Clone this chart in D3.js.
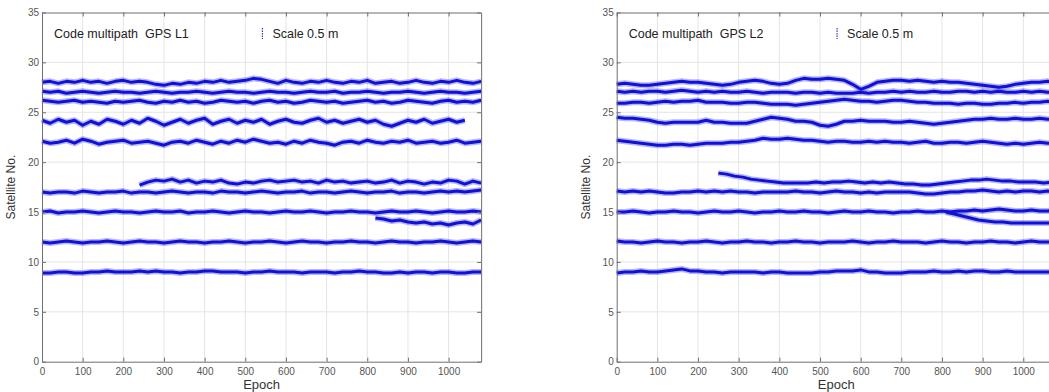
<!DOCTYPE html>
<html>
<head>
<meta charset="utf-8">
<script src="https://cdn.jsdelivr.net/npm/d3@7"></script>
<style>
  body { margin: 0; background: #fff; }
  svg { display: block; font-family: Arial, 'Liberation Sans', sans-serif; }
</style>
</head>
<body>
<div id="chart"></div>
<script>
// ---- data: satellite tracks, one value every 20 epochs ----
const epochStep = 20;
const xTicks = [0, 100, 200, 300, 400, 500, 600, 700, 800, 900, 1000];
const yTicks = [0, 5, 10, 15, 20, 25, 30, 35];

// GPS L1
const l1Sat28 = [28.0,28.1,27.9,28.1,28.0,28.2,28.0,28.1,27.9,28.1,28.2,28.0,28.1,28.0,27.8,27.7,27.9,27.8,28.0,27.9,28.1,28.0,28.2,28.0,28.1,28.2,28.4,28.3,28.1,27.9,28.2,28.0,27.9,28.1,28.0,28.2,28.0,27.9,28.1,28.0,28.2,27.9,28.0,28.1,27.9,28.0,28.2,28.0,27.9,28.1,28.0,28.2,28.0,27.9,28.1];
const l1Sat27 = [27.1,27.0,27.1,26.9,27.0,27.1,27.0,26.9,27.0,27.1,27.0,27.0,26.9,27.0,27.1,27.0,26.9,27.0,27.0,27.1,27.0,26.9,27.0,27.1,27.0,27.0,26.9,27.0,27.1,27.0,27.0,26.9,27.0,27.1,27.0,27.0,27.1,26.9,27.0,27.0,27.1,27.0,26.9,27.0,27.0,27.1,27.0,26.9,27.0,27.1,27.0,27.0,26.9,27.0,27.1];
const l1Sat26 = [26.2,26.1,26.0,26.1,26.2,26.0,26.1,26.0,25.9,26.1,26.0,26.1,26.2,26.0,25.9,26.1,26.0,26.2,26.0,26.1,25.9,26.0,26.2,26.1,26.0,26.1,25.9,26.1,26.2,26.0,26.1,25.9,26.0,26.2,26.1,26.0,26.1,25.9,26.0,26.1,26.2,26.0,26.1,25.9,26.0,26.2,26.1,26.0,25.9,26.1,26.2,26.0,26.1,26.0,26.2];
const l1Sat24 = [24.2,23.9,24.3,24.0,24.2,23.7,24.1,23.8,24.3,24.1,23.8,24.2,23.9,24.4,24.1,23.7,24.0,24.3,23.9,24.2,24.4,23.8,24.1,24.3,23.9,24.2,24.0,24.3,23.8,24.1,24.3,24.0,23.9,24.2,24.4,24.0,24.2,23.9,24.1,24.3,24.0,24.2,23.8,23.6,23.9,24.2,24.0,24.3,23.9,24.1,24.3,24.0,24.2];
const l1Sat22 = [22.1,21.9,22.0,22.2,21.9,22.3,22.1,21.8,22.0,22.1,22.2,21.9,22.0,22.1,21.9,21.7,22.0,22.1,21.9,22.2,22.0,21.8,22.1,21.9,22.2,22.0,22.3,22.1,21.9,22.0,21.8,22.1,21.9,22.2,22.0,21.9,21.7,22.0,22.1,21.9,22.2,22.0,21.9,22.1,22.0,22.2,21.9,22.0,22.1,21.9,22.0,22.2,21.9,22.0,22.1];
const l1Sat18 = [17.7,18.0,18.2,18.1,18.3,18.0,18.2,17.9,18.1,18.0,18.2,17.9,17.8,18.0,17.9,18.1,18.2,18.0,18.1,18.2,18.0,18.1,17.9,18.2,18.0,18.1,17.9,18.0,18.1,17.9,18.0,18.2,17.9,18.1,18.0,17.8,18.0,17.9,18.2,18.1,17.8,18.1,17.9];
const l1Sat17 = [17.0,16.9,17.0,17.0,16.9,17.1,17.0,16.9,17.0,17.0,17.1,16.9,17.0,17.0,16.9,17.0,17.1,17.0,16.9,17.0,17.0,16.9,17.1,17.0,17.0,16.9,17.0,17.1,17.0,16.9,17.0,17.0,17.1,16.9,17.0,17.0,16.9,17.0,17.1,17.0,16.9,17.0,17.0,17.1,16.9,17.0,17.0,16.9,17.0,17.1,17.0,17.1,17.0,17.1,17.2];
const l1Sat15 = [15.0,15.1,14.9,15.0,15.0,15.1,15.0,14.9,15.0,15.1,15.0,15.0,14.9,15.0,15.1,15.0,15.0,15.1,14.9,15.0,15.0,15.1,15.0,14.9,15.0,15.1,15.0,15.0,14.9,15.0,15.1,15.0,15.0,15.1,15.0,14.9,15.0,15.0,15.1,15.0,15.0,14.9,15.0,15.1,15.0,15.0,15.1,15.0,14.9,15.0,15.1,15.0,15.0,15.1,15.0];
const l1Sat14 = [14.4,14.3,14.1,14.2,14.0,13.9,14.0,13.8,13.9,13.7,13.9,14.0,13.8,14.2];
const l1Sat12 = [12.0,11.9,12.0,12.1,12.0,11.9,12.0,12.0,12.1,12.0,11.9,12.0,12.1,12.0,12.0,11.9,12.0,12.1,12.0,12.0,11.9,12.0,12.0,12.1,12.0,11.9,12.0,12.0,12.1,12.0,11.9,12.0,12.1,12.0,12.0,11.9,12.0,12.0,12.1,12.0,12.0,11.9,12.0,12.1,12.0,12.0,11.9,12.0,12.0,12.1,12.0,11.9,12.0,12.1,12.0];
const l1Sat9 = [8.9,8.9,9.0,9.0,8.9,8.9,9.0,9.0,9.1,9.0,9.0,9.0,9.1,9.0,9.1,9.0,9.0,8.9,9.0,9.0,9.1,9.1,9.0,9.0,9.0,8.9,9.0,9.0,9.1,9.0,9.0,9.0,8.9,9.0,9.0,9.0,8.9,9.0,9.0,9.1,9.0,9.0,8.9,8.9,9.0,8.9,9.0,9.0,8.9,9.0,9.0,8.9,8.9,9.0,9.0];

// GPS L2
const l2Sat28 = [27.8,27.9,27.8,27.7,27.7,27.8,27.9,28.0,28.1,28.0,28.0,27.9,27.8,27.7,27.8,28.0,28.1,28.2,28.1,27.9,27.8,27.9,28.2,28.4,28.3,28.3,28.4,28.3,28.2,27.8,27.3,27.6,28.0,28.1,28.2,28.2,28.1,28.2,28.1,28.0,28.1,28.0,28.0,27.9,27.8,27.7,27.6,27.5,27.6,27.8,27.9,28.0,28.0,28.1,28.0];
const l2Sat27 = [27.1,27.0,27.1,27.0,27.1,27.1,27.0,27.1,27.2,27.1,27.0,27.1,27.0,27.1,27.0,27.0,27.1,27.0,26.9,27.0,27.0,27.0,26.9,27.0,27.0,26.9,27.0,26.9,26.9,26.9,27.0,26.9,27.0,27.0,27.1,27.0,27.1,27.0,27.0,27.1,27.0,27.0,27.1,27.1,27.0,27.1,27.0,27.1,27.0,27.0,27.1,27.0,27.1,27.0,27.1];
const l2Sat26 = [25.9,25.9,26.0,26.0,25.9,26.0,26.1,26.0,26.1,26.1,26.2,26.0,26.0,26.0,25.9,25.9,26.0,26.0,25.9,25.8,25.8,25.8,25.7,25.8,25.9,26.0,26.1,26.2,26.3,26.2,26.1,26.1,26.0,26.1,26.2,26.2,26.1,26.0,26.0,25.9,25.9,25.9,25.8,25.9,25.9,25.8,25.8,25.9,25.9,26.0,25.9,26.0,26.0,26.1,26.0];
const l2Sat24 = [24.5,24.4,24.4,24.3,24.2,24.0,23.9,24.0,24.0,24.0,24.0,24.2,24.0,24.0,23.9,23.9,23.9,24.1,24.3,24.5,24.4,24.3,24.1,24.1,24.0,23.7,23.6,23.8,24.1,24.1,24.2,24.1,24.1,24.1,24.0,24.0,24.1,24.0,23.9,23.8,23.9,24.0,24.1,24.2,24.3,24.3,24.4,24.3,24.3,24.4,24.3,24.3,24.4,24.3,24.3];
const l2Sat22 = [22.2,22.1,22.0,21.9,21.8,21.7,21.7,21.8,21.8,21.7,21.8,21.9,21.9,21.9,22.0,22.0,22.1,22.2,22.4,22.3,22.3,22.4,22.3,22.2,22.2,22.1,22.0,22.1,22.1,22.0,22.0,22.1,22.0,22.1,22.0,22.0,21.9,22.0,22.1,21.9,21.9,22.0,22.0,21.9,22.0,22.1,22.0,21.9,21.8,21.9,21.8,21.9,22.0,21.9,21.9];
const l2Sat18 = [18.9,18.8,18.6,18.5,18.3,18.2,18.1,18.0,17.9,17.9,17.9,17.9,18.0,17.9,18.0,18.0,18.1,18.0,17.9,18.0,17.9,18.0,17.9,17.8,17.8,17.7,17.7,17.8,17.9,18.0,18.1,18.2,18.2,18.3,18.2,18.1,18.1,18.0,18.0,18.0,17.9,18.0];
const l2Sat17 = [17.1,17.0,17.1,17.0,17.1,17.0,16.9,16.9,17.0,17.0,17.1,17.0,17.1,17.0,17.1,17.0,17.0,16.9,17.0,17.0,17.0,17.0,17.1,17.0,17.0,16.9,17.0,17.1,17.0,17.0,16.9,17.0,16.9,17.0,17.0,17.0,17.0,16.9,16.8,16.8,16.9,17.0,17.0,17.1,17.1,17.2,17.1,17.0,17.1,17.0,17.1,17.1,17.0,17.1,17.0];
const l2Sat15 = [15.0,15.0,15.1,15.0,14.9,15.0,15.0,15.1,15.0,15.0,14.9,15.0,15.1,15.0,15.0,15.1,15.0,14.9,15.0,15.0,15.1,15.0,15.0,15.1,15.0,15.0,14.9,15.0,15.1,15.0,15.0,15.1,15.0,15.0,14.9,15.0,15.0,15.1,15.0,15.0,15.1,15.0,15.1,15.1,15.2,15.1,15.2,15.3,15.2,15.1,15.1,15.2,15.1,15.1,15.2];
const l2Sat14 = [15.0,14.8,14.6,14.4,14.2,14.1,14.0,14.0,13.9,13.9,13.9,13.9,13.9,13.9];
const l2Sat12 = [12.1,12.0,12.0,11.9,12.0,12.1,12.0,12.0,11.9,12.0,12.0,12.1,12.0,11.9,12.0,12.0,12.1,12.0,12.0,11.9,12.0,12.0,12.1,12.0,12.0,11.9,12.0,12.0,12.0,12.1,12.0,11.9,12.0,12.0,12.1,12.0,12.0,12.0,11.9,12.0,12.1,12.0,12.0,11.9,12.0,12.0,12.1,12.0,12.0,11.9,12.0,12.1,12.0,12.0,12.0];
const l2Sat9 = [8.9,9.0,9.0,9.1,9.0,9.0,9.1,9.2,9.3,9.1,9.1,9.0,9.0,8.9,9.0,9.0,9.0,9.0,8.9,9.0,9.0,8.9,8.9,8.9,8.9,9.0,9.0,9.1,9.1,9.1,9.2,9.0,9.0,8.9,8.9,8.9,9.0,9.0,9.0,9.1,9.0,9.0,9.1,9.0,9.1,9.1,9.0,9.0,9.1,9.0,9.0,9.0,9.0,9.0,9.0];

// series: [values, first epoch]
const l1Tracks = [
  [l1Sat28, 0], [l1Sat27, 0], [l1Sat26, 0], [l1Sat24, 0], [l1Sat22, 0], [l1Sat18, 240],
  [l1Sat17, 0], [l1Sat15, 0], [l1Sat14, 820], [l1Sat12, 0], [l1Sat9, 0],
];
const l2Tracks = [
  [l2Sat28, 0], [l2Sat27, 0], [l2Sat26, 0], [l2Sat24, 0], [l2Sat22, 0], [l2Sat18, 250],
  [l2Sat17, 0], [l2Sat15, 0], [l2Sat14, 810], [l2Sat12, 0], [l2Sat9, 0],
];

// ---- layout ----
const width = 1049;
const height = 392;
const blue = '#1010d8';
const axisColor = '#6e6e6e';
const gridColor = '#e4e4e4';

const svg = d3.select('#chart').append('svg').attr('width', width).attr('height', height);

const drawPanel = (left, tracks, title) => {
  const plotTop = 12.5;
  const plotBottom = 361.7;
  const pxPerEpoch = 0.4066;

  const xScale = d3.scaleLinear().domain([0, 1080]).range([left, left + 1080 * pxPerEpoch]);
  const yScale = d3.scaleLinear().domain([0, 35]).range([plotBottom, plotTop]);
  const [x0, x1] = xScale.range();

  const g = svg.append('g');

  // grid
  g.append('g')
    .selectAll('line')
    .data(xTicks.slice(1))
    .join('line')
    .attr('x1', (d) => xScale(d)).attr('x2', (d) => xScale(d))
    .attr('y1', plotTop).attr('y2', plotBottom)
    .attr('stroke', gridColor);
  g.append('g')
    .selectAll('line')
    .data(yTicks.slice(1, -1))
    .join('line')
    .attr('x1', x0).attr('x2', x1)
    .attr('y1', (d) => yScale(d)).attr('y2', (d) => yScale(d))
    .attr('stroke', gridColor);

  // tracks: soft halo + solid core to look like the dense dot bands
  const line = d3.line()
    .x((d) => xScale(d[0]))
    .y((d) => yScale(d[1]));

  tracks.forEach(([values, start]) => {
    const pts = values.map((v, i) => [start + i * epochStep, v]);
    g.append('path')
      .datum(pts)
      .attr('d', line)
      .attr('fill', 'none')
      .attr('stroke', blue)
      .attr('stroke-opacity', 0.3)
      .attr('stroke-width', 6)
      .attr('stroke-linejoin', 'round');
    g.append('path')
      .datum(pts)
      .attr('d', line)
      .attr('fill', 'none')
      .attr('stroke', blue)
      .attr('stroke-width', 3)
      .attr('stroke-linejoin', 'round');
  });

  // axes, MATLAB style box with inward ticks
  const styleAxis = (sel) => {
    sel.select('.domain').attr('stroke', axisColor);
    sel.selectAll('.tick line').attr('stroke', axisColor);
    sel.selectAll('.tick text').attr('fill', '#555').style('font-size', '10px');
  };

  g.append('g')
    .attr('transform', `translate(0,${plotBottom})`)
    .call(d3.axisBottom(xScale).tickValues(xTicks).tickFormat(d3.format('d')).tickSize(-4).tickSizeOuter(0).tickPadding(6))
    .call(styleAxis);
  g.append('g')
    .attr('transform', `translate(0,${plotTop})`)
    .call(d3.axisTop(xScale).tickValues(xTicks).tickSize(-4).tickSizeOuter(0).tickFormat(''))
    .call(styleAxis);
  g.append('g')
    .attr('transform', `translate(${x0},0)`)
    .call(d3.axisLeft(yScale).tickValues(yTicks).tickSize(-4).tickSizeOuter(0).tickPadding(3))
    .call(styleAxis);
  g.append('g')
    .attr('transform', `translate(${x1},0)`)
    .call(d3.axisRight(yScale).tickValues(yTicks).tickSize(-4).tickSizeOuter(0).tickFormat(''))
    .call(styleAxis);

  // labels
  g.append('text')
    .attr('x', xScale(540))
    .attr('y', 389)
    .attr('text-anchor', 'middle')
    .attr('fill', '#333')
    .style('font-size', '13px')
    .text('Epoch');
  g.append('text')
    .attr('transform', `translate(${left - 27},${yScale(17.5)}) rotate(-90)`)
    .attr('text-anchor', 'middle')
    .attr('fill', '#333')
    .style('font-size', '12px')
    .text('Satellite No.');

  g.append('text')
    .attr('x', left + 12)
    .attr('y', 38)
    .attr('fill', '#222')
    .style('font-size', '12.5px')
    .style('white-space', 'pre')
    .text(title);

  // scale bar legend
  const barX = xScale(542);
  g.append('line')
    .attr('x1', barX).attr('x2', barX)
    .attr('y1', 28).attr('y2', 39)
    .attr('stroke', blue)
    .attr('stroke-width', 1)
    .attr('stroke-dasharray', '1.5,1');
  g.append('text')
    .attr('x', barX + 10)
    .attr('y', 38)
    .attr('fill', '#222')
    .style('font-size', '12.5px')
    .text('Scale 0.5 m');
};

drawPanel(42, l1Tracks, 'Code multipath  GPS L1');
drawPanel(616.7, l2Tracks, 'Code multipath  GPS L2');
</script>
</body>
</html>
